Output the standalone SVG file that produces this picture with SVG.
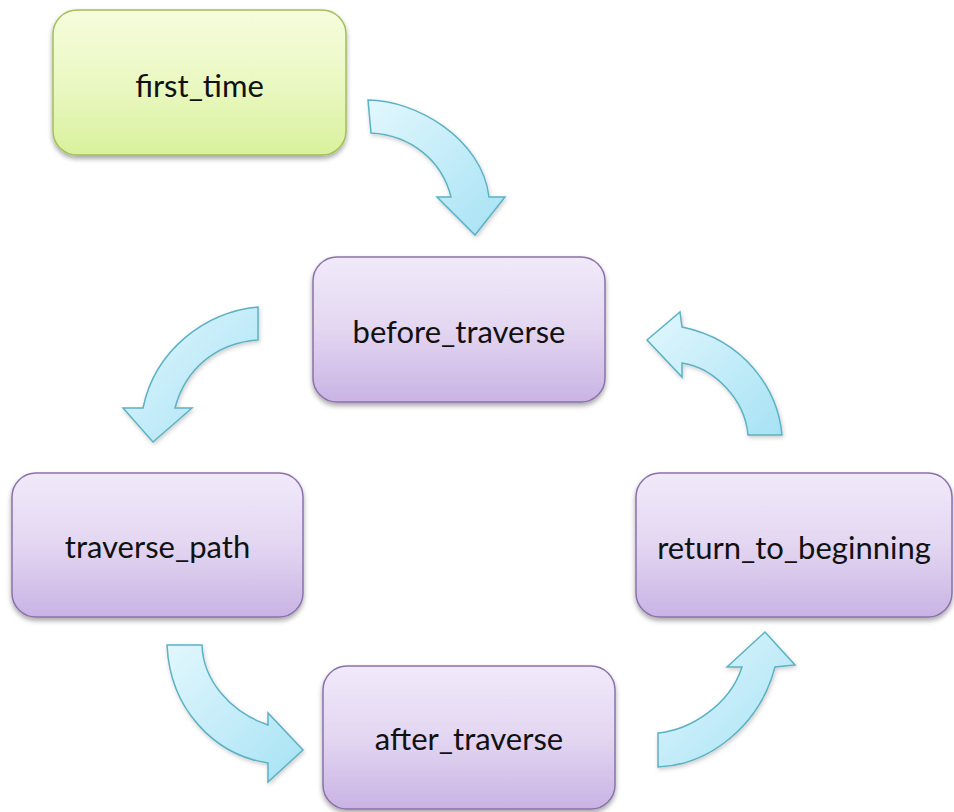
<svg xmlns="http://www.w3.org/2000/svg" width="954" height="812" viewBox="0 0 954 812">
  <defs>
    <linearGradient id="gPurple" x1="0" y1="0" x2="0" y2="1">
      <stop offset="0" stop-color="#f1eafa"/>
      <stop offset="0.5" stop-color="#e3d6f1"/>
      <stop offset="1" stop-color="#c9b3e4"/>
    </linearGradient>
    <linearGradient id="gGreen" x1="0" y1="0" x2="0" y2="1">
      <stop offset="0" stop-color="#f6fcdc"/>
      <stop offset="0.5" stop-color="#eaf8c3"/>
      <stop offset="1" stop-color="#d9f19c"/>
    </linearGradient>
    <linearGradient id="gArrow" x1="0" y1="0" x2="1" y2="1">
      <stop offset="0" stop-color="#e2f7fd"/>
      <stop offset="1" stop-color="#a6e2f4"/>
    </linearGradient>
    <filter id="shadow" x="-10%" y="-10%" width="120%" height="130%">
      <feDropShadow dx="0" dy="3" stdDeviation="2.5" flood-color="#000" flood-opacity="0.35"/>
    </filter>
    <filter id="ashadow" x="-10%" y="-10%" width="130%" height="130%">
      <feDropShadow dx="1" dy="2" stdDeviation="2" flood-color="#000" flood-opacity="0.2"/>
    </filter>
  </defs>
  <style>
    .box { stroke-width: 1.5; filter: url(#shadow); }
    .purple { fill: url(#gPurple); stroke: #8a72aa; }
    .green { fill: url(#gGreen); stroke: #a2bf5c; }
    .label { font-family: "Lato", "Liberation Sans", sans-serif; font-size: 31px; fill: #111; text-anchor: middle; }
    .arrow { fill: url(#gArrow); stroke: #5cb2c4; stroke-width: 1.5; stroke-linejoin: miter; filter: url(#ashadow); }
  </style>

  <rect width="954" height="812" fill="#ffffff"/>

  <!-- curved block arrows between the states -->
  <g id="connectors">
    <!-- first_time to before_traverse -->
    <path class="arrow" d="M368,100 C415,100 482,138 489,197 L505,197 L475,235 L437,197 L451,197 C442,160 410,135 371,133 Z"/>
    <!-- before_traverse to traverse_path -->
    <path class="arrow" d="M258,307 C205,312 155,350 143,408 L123,408 L153,442 L192,408 L175,408 C185,370 215,343 258,340 Z"/>
    <!-- traverse_path to after_traverse -->
    <path class="arrow" d="M167,645 C170,710 215,755 268,763 L268,782 L303,750 L268,713 L268,725 C230,712 203,680 202,645 Z"/>
    <!-- after_traverse to return_to_beginning -->
    <path class="arrow" d="M658,767 C710,765 760,725 775,667 L795,665 L765,632 L727,667 L742,667 C730,705 690,730 658,733 Z"/>
    <!-- return_to_beginning to before_traverse -->
    <path class="arrow" d="M782,435 C778,390 745,340 682,327 L680,312 L647,340 L682,377 L682,363 C715,368 745,400 748,435 Z"/>
  </g>

  <g id="first_time">
    <rect class="box green" x="53" y="10" width="293" height="145" rx="24"/>
    <text class="label" x="199.5" y="97">first_time</text>
  </g>

  <g id="before_traverse">
    <rect class="box purple" x="313" y="257" width="292" height="145" rx="24"/>
    <text class="label" x="459" y="343">before_traverse</text>
  </g>

  <g id="traverse_path">
    <rect class="box purple" x="12" y="473" width="291" height="144" rx="24"/>
    <text class="label" x="157.5" y="558">traverse_path</text>
  </g>

  <g id="return_to_beginning">
    <rect class="box purple" x="636" y="473" width="316" height="144" rx="24"/>
    <text class="label" x="794" y="559">return_to_beginning</text>
  </g>

  <g id="after_traverse">
    <rect class="box purple" x="323" y="666" width="292" height="143" rx="24"/>
    <text class="label" x="469" y="750">after_traverse</text>
  </g>
</svg>
